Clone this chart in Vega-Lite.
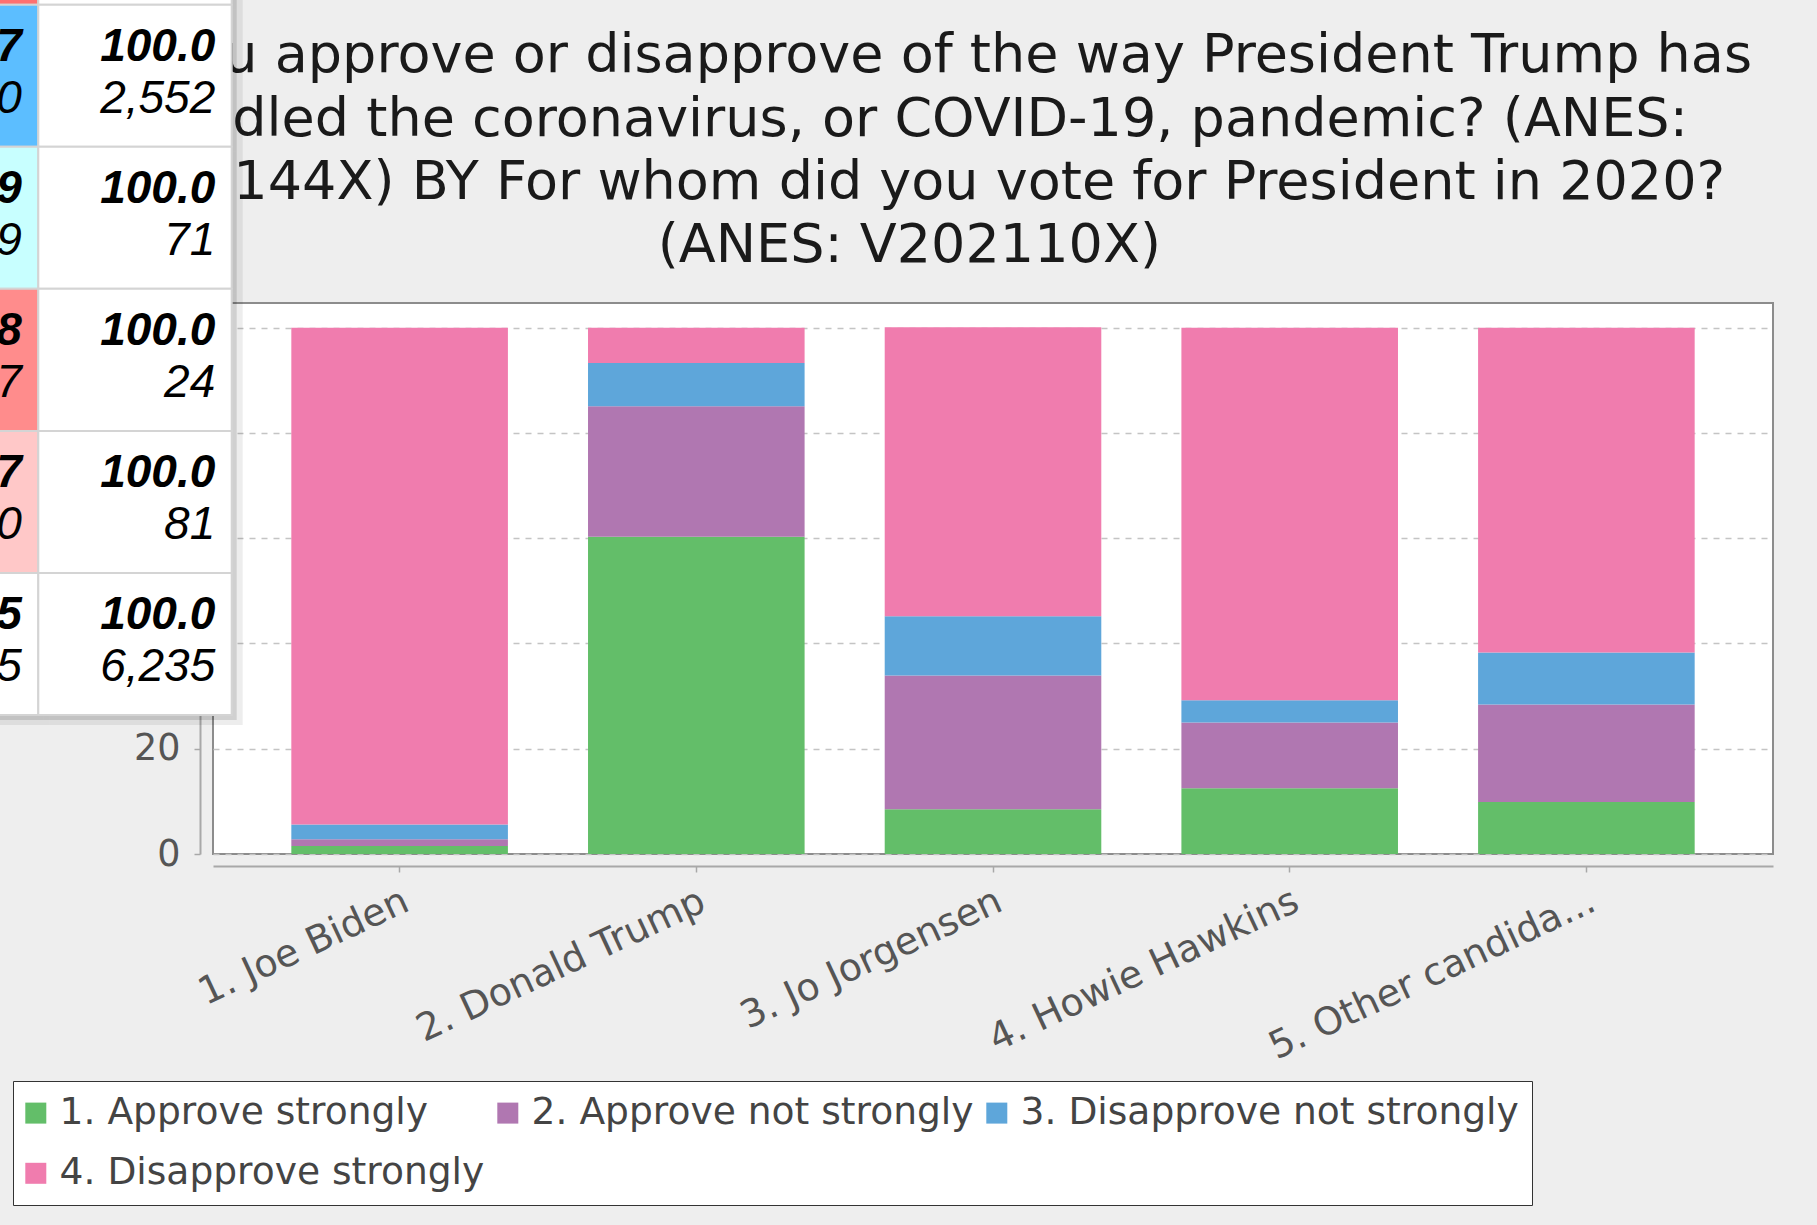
{
  "$schema": "https://vega.github.io/schema/vega-lite/v6.json",
  "width": 1560,
  "height": 551,
  "autosize": {"type": "none"},
  "padding": {"left": 213, "top": 303, "right": 44, "bottom": 371},
  "background": "#EEEEEE",
  "config": {
    "font": "DejaVu Sans",
    "view": {"fill": "white", "stroke": "#8C8C8C", "strokeWidth": 2}
  },
  "datasets": {
    "bars": [
      {"candidate": "1. Joe Biden", "approval": "1. Approve strongly", "percent": 1.5},
      {"candidate": "1. Joe Biden", "approval": "2. Approve not strongly", "percent": 1.3},
      {"candidate": "1. Joe Biden", "approval": "3. Disapprove not strongly", "percent": 2.8},
      {"candidate": "1. Joe Biden", "approval": "4. Disapprove strongly", "percent": 94.4},
      {"candidate": "2. Donald Trump", "approval": "1. Approve strongly", "percent": 60.3},
      {"candidate": "2. Donald Trump", "approval": "2. Approve not strongly", "percent": 24.8},
      {"candidate": "2. Donald Trump", "approval": "3. Disapprove not strongly", "percent": 8.2},
      {"candidate": "2. Donald Trump", "approval": "4. Disapprove strongly", "percent": 6.7},
      {"candidate": "3. Jo Jorgensen", "approval": "1. Approve strongly", "percent": 8.5},
      {"candidate": "3. Jo Jorgensen", "approval": "2. Approve not strongly", "percent": 25.4},
      {"candidate": "3. Jo Jorgensen", "approval": "3. Disapprove not strongly", "percent": 11.3},
      {"candidate": "3. Jo Jorgensen", "approval": "4. Disapprove strongly", "percent": 54.9},
      {"candidate": "4. Howie Hawkins", "approval": "1. Approve strongly", "percent": 12.5},
      {"candidate": "4. Howie Hawkins", "approval": "2. Approve not strongly", "percent": 12.5},
      {"candidate": "4. Howie Hawkins", "approval": "3. Disapprove not strongly", "percent": 4.2},
      {"candidate": "4. Howie Hawkins", "approval": "4. Disapprove strongly", "percent": 70.8},
      {"candidate": "5. Other candida...", "approval": "1. Approve strongly", "percent": 9.9},
      {"candidate": "5. Other candida...", "approval": "2. Approve not strongly", "percent": 18.5},
      {"candidate": "5. Other candida...", "approval": "3. Disapprove not strongly", "percent": 9.9},
      {"candidate": "5. Other candida...", "approval": "4. Disapprove strongly", "percent": 61.7}
    ],
    "popup": [
      {"row": "1. Joe Biden", "column": "4. Disapprove strongly", "pct": "94.4", "n": "3,309", "shade": "much higher"},
      {"row": "1. Joe Biden", "column": "Total", "pct": "100.0", "n": "3,507", "shade": "total"},
      {"row": "2. Donald Trump", "column": "4. Disapprove strongly", "pct": "6.7", "n": "170", "shade": "much lower"},
      {"row": "2. Donald Trump", "column": "Total", "pct": "100.0", "n": "2,552", "shade": "total"},
      {"row": "3. Jo Jorgensen", "column": "4. Disapprove strongly", "pct": "54.9", "n": "39", "shade": "slightly lower"},
      {"row": "3. Jo Jorgensen", "column": "Total", "pct": "100.0", "n": "71", "shade": "total"},
      {"row": "4. Howie Hawkins", "column": "4. Disapprove strongly", "pct": "70.8", "n": "17", "shade": "higher"},
      {"row": "4. Howie Hawkins", "column": "Total", "pct": "100.0", "n": "24", "shade": "total"},
      {"row": "5. Other candidate", "column": "4. Disapprove strongly", "pct": "61.7", "n": "50", "shade": "slightly higher"},
      {"row": "5. Other candidate", "column": "Total", "pct": "100.0", "n": "81", "shade": "total"},
      {"row": "Total", "column": "4. Disapprove strongly", "pct": "57.5", "n": "3,585", "shade": "total"},
      {"row": "Total", "column": "Total", "pct": "100.0", "n": "6,235", "shade": "total"}
    ]
  },
  "layer": [
    {
      "data": {"name": "bars"},
      "mark": {"type": "bar"},
      "encoding": {
        "x": {
          "field": "candidate", "type": "nominal", "sort": null,
          "scale": {"paddingInner": 0.27, "paddingOuter": 0.264},
          "axis": {
            "title": null, "orient": "bottom", "offset": 12,
            "domainColor": "#A8A8A8", "domainWidth": 2,
            "tickColor": "#A8A8A8", "tickWidth": 1.5, "tickSize": 6,
            "labelAngle": -25, "labelAlign": "right", "labelBaseline": "top",
            "labelFont": "DejaVu Sans", "labelFontSize": 38, "labelColor": "#555555",
            "labelPadding": 10, "labelOffset": -1, "labelLimit": 0, "grid": false
          }
        },
        "y": {
          "field": "percent", "type": "quantitative", "stack": "zero",
          "scale": {"domain": [0, 104.7], "nice": false},
          "axis": {
            "title": null, "offset": 13, "values": [0, 20, 40, 60, 80, 100],
            "domainColor": "#A8A8A8", "domainWidth": 2,
            "tickColor": "#A8A8A8", "tickWidth": 1.5, "tickSize": 6,
            "labelFont": "DejaVu Sans", "labelFontSize": 36.5, "labelColor": "#555555",
            "labelPadding": 14,
            "grid": true, "gridColor": "#C4C4C4", "gridDash": [6, 6], "gridWidth": 1.5
          }
        },
        "color": {
          "field": "approval", "type": "nominal",
          "scale": {
            "domain": ["1. Approve strongly", "2. Approve not strongly", "3. Disapprove not strongly", "4. Disapprove strongly"],
            "range": ["#63BE69", "#B077B1", "#5EA6DA", "#F07CAE"]
          },
          "legend": {
            "orient": "none", "legendX": -200, "legendY": 778,
            "direction": "horizontal", "columns": 3,
            "title": null, "symbolType": "square", "symbolSize": 441, "symbolStrokeWidth": 0,
            "symbolOffset": -9,
            "labelFont": "DejaVu Sans", "labelFontSize": 37.6, "labelColor": "#444444",
            "labelOffset": 5, "labelLimit": 0, "columnPadding": 12, "rowPadding": 21.5,
            "padding": 13, "strokeColor": "#333333", "fillColor": "white"
          }
        },
        "order": {"field": "approval", "sort": "ascending"}
      }
    },
    {
      "data": {"name": "popup"},
      "layer": [
        {
          "mark": {"type": "rect", "fill": "#000000", "opacity": 0.07, "xOffset": 11, "yOffset": 10},
          "encoding": {
            "x": {"field": "column", "type": "nominal", "sort": ["4. Disapprove strongly", "Total"], "scale": {"range": [-368.1, 18.7], "paddingInner": 0, "paddingOuter": 0},
              "axis": {"orient": "top", "zindex": 0, "labels": false, "ticks": false, "domain": false, "grid": false,
                "title": ["Do you approve or disapprove of the way President Trump has", "handled the coronavirus, or COVID-19, pandemic? (ANES:", "V201144X) BY For whom did you vote for President in 2020?", "(ANES: V202110X)"],
                "titleX": 695.8, "titleY": -231.2, "titleAlign": "center", "titleBaseline": "alphabetic", "titleAngle": 0,
                "titleFont": "DejaVu Sans", "titleFontSize": 54, "titleFontWeight": "normal", "titleColor": "#1A1A1A", "titleLineHeight": 63.3, "titleLimit": 5000}},
            "y": {"field": "row", "type": "nominal", "sort": ["1. Joe Biden", "2. Donald Trump", "3. Jo Jorgensen", "4. Howie Hawkins", "5. Other candidate", "Total"], "scale": {"range": [-440.3, 412], "paddingInner": 0, "paddingOuter": 0}, "axis": null}
          }
        },
        {
          "mark": {"type": "rect", "fill": "#000000", "opacity": 0.12, "xOffset": 5, "yOffset": 5},
          "encoding": {
            "x": {"field": "column", "type": "nominal", "sort": ["4. Disapprove strongly", "Total"], "scale": {"range": [-368.1, 18.7], "paddingInner": 0, "paddingOuter": 0},
              "axis": {"orient": "top", "zindex": 0, "labels": false, "ticks": false, "domain": false, "grid": false,
                "title": ["Do you approve or disapprove of the way President Trump has", "handled the coronavirus, or COVID-19, pandemic? (ANES:", "V201144X) BY For whom did you vote for President in 2020?", "(ANES: V202110X)"],
                "titleX": 695.8, "titleY": -231.2, "titleAlign": "center", "titleBaseline": "alphabetic", "titleAngle": 0,
                "titleFont": "DejaVu Sans", "titleFontSize": 54, "titleFontWeight": "normal", "titleColor": "#1A1A1A", "titleLineHeight": 63.3, "titleLimit": 5000}},
            "y": {"field": "row", "type": "nominal", "sort": ["1. Joe Biden", "2. Donald Trump", "3. Jo Jorgensen", "4. Howie Hawkins", "5. Other candidate", "Total"], "scale": {"range": [-440.3, 412], "paddingInner": 0, "paddingOuter": 0}, "axis": null}
          }
        },
        {
          "mark": {"type": "rect", "stroke": "#D4D4D4", "strokeWidth": 2},
          "encoding": {
            "x": {"field": "column", "type": "nominal", "sort": ["4. Disapprove strongly", "Total"], "scale": {"range": [-368.1, 18.7], "paddingInner": 0, "paddingOuter": 0},
              "axis": {"orient": "top", "zindex": 0, "labels": false, "ticks": false, "domain": false, "grid": false,
                "title": ["Do you approve or disapprove of the way President Trump has", "handled the coronavirus, or COVID-19, pandemic? (ANES:", "V201144X) BY For whom did you vote for President in 2020?", "(ANES: V202110X)"],
                "titleX": 695.8, "titleY": -231.2, "titleAlign": "center", "titleBaseline": "alphabetic", "titleAngle": 0,
                "titleFont": "DejaVu Sans", "titleFontSize": 54, "titleFontWeight": "normal", "titleColor": "#1A1A1A", "titleLineHeight": 63.3, "titleLimit": 5000}},
            "y": {"field": "row", "type": "nominal", "sort": ["1. Joe Biden", "2. Donald Trump", "3. Jo Jorgensen", "4. Howie Hawkins", "5. Other candidate", "Total"], "scale": {"range": [-440.3, 412], "paddingInner": 0, "paddingOuter": 0}, "axis": null},
            "fill": {"field": "shade", "type": "nominal",
              "scale": {"domain": ["much lower", "slightly lower", "total", "slightly higher", "higher", "much higher"], "range": ["#5CBEFF", "#C8FFFF", "#FFFFFF", "#FFC8C8", "#FF8C8C", "#FF7070"]},
              "legend": null}
          }
        },
        {
          "mark": {"type": "text", "align": "right", "baseline": "middle", "font": "Liberation Sans", "fontSize": 46, "fontStyle": "italic", "fontWeight": "bold", "color": "#000000"},
          "encoding": {
            "x": {"field": "column", "type": "nominal", "sort": ["4. Disapprove strongly", "Total"], "bandPosition": 0.915, "scale": {"range": [-368.1, 18.7], "paddingInner": 0, "paddingOuter": 0},
              "axis": {"orient": "top", "zindex": 0, "labels": false, "ticks": false, "domain": false, "grid": false,
                "title": ["Do you approve or disapprove of the way President Trump has", "handled the coronavirus, or COVID-19, pandemic? (ANES:", "V201144X) BY For whom did you vote for President in 2020?", "(ANES: V202110X)"],
                "titleX": 695.8, "titleY": -231.2, "titleAlign": "center", "titleBaseline": "alphabetic", "titleAngle": 0,
                "titleFont": "DejaVu Sans", "titleFontSize": 54, "titleFontWeight": "normal", "titleColor": "#1A1A1A", "titleLineHeight": 63.3, "titleLimit": 5000}},
            "y": {"field": "row", "type": "nominal", "sort": ["1. Joe Biden", "2. Donald Trump", "3. Jo Jorgensen", "4. Howie Hawkins", "5. Other candidate", "Total"], "bandPosition": 0.296, "scale": {"range": [-440.3, 412], "paddingInner": 0, "paddingOuter": 0}, "axis": null},
            "text": {"field": "pct", "type": "nominal"}
          }
        },
        {
          "mark": {"type": "text", "align": "right", "baseline": "middle", "font": "Liberation Sans", "fontSize": 46, "fontStyle": "italic", "fontWeight": "normal", "color": "#000000"},
          "encoding": {
            "x": {"field": "column", "type": "nominal", "sort": ["4. Disapprove strongly", "Total"], "bandPosition": 0.915, "scale": {"range": [-368.1, 18.7], "paddingInner": 0, "paddingOuter": 0},
              "axis": {"orient": "top", "zindex": 0, "labels": false, "ticks": false, "domain": false, "grid": false,
                "title": ["Do you approve or disapprove of the way President Trump has", "handled the coronavirus, or COVID-19, pandemic? (ANES:", "V201144X) BY For whom did you vote for President in 2020?", "(ANES: V202110X)"],
                "titleX": 695.8, "titleY": -231.2, "titleAlign": "center", "titleBaseline": "alphabetic", "titleAngle": 0,
                "titleFont": "DejaVu Sans", "titleFontSize": 54, "titleFontWeight": "normal", "titleColor": "#1A1A1A", "titleLineHeight": 63.3, "titleLimit": 5000}},
            "y": {"field": "row", "type": "nominal", "sort": ["1. Joe Biden", "2. Donald Trump", "3. Jo Jorgensen", "4. Howie Hawkins", "5. Other candidate", "Total"], "bandPosition": 0.662, "scale": {"range": [-440.3, 412], "paddingInner": 0, "paddingOuter": 0}, "axis": null},
            "text": {"field": "n", "type": "nominal"}
          }
        }
      ]
    }
  ],
  "resolve": {
    "scale": {"x": "independent", "y": "independent"},
    "axis": {"x": "independent", "y": "independent"}
  }
}
